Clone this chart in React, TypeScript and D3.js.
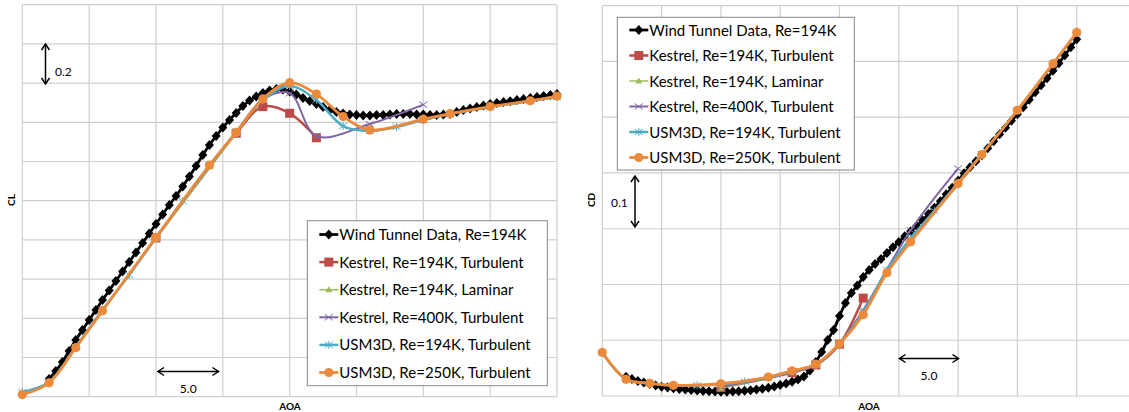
import React from 'react';
import * as d3 from 'd3';

// ---------------- DATA ----------------
// Wind tunnel (dense, 0.5 deg steps)
const wtAoa = [-8, -7.5, -7, -6.5, -6, -5.5, -5, -4.5, -4, -3.5, -3, -2.5, -2, -1.5, -1, -0.5, 0, 0.5, 1, 1.5, 2, 2.5, 3, 3.5, 4, 4.5, 5, 5.5, 6, 6.5, 7, 7.5, 8, 8.5, 9, 9.5, 10, 10.5, 11, 11.5, 12, 12.5, 13, 13.5, 14, 14.5, 15, 15.5, 16, 16.5, 17, 17.5, 18, 18.5, 19, 19.5, 20, 20.5, 21, 21.5, 22, 22.5, 23, 23.5, 24, 24.5, 25, 25.5, 26, 26.5, 27, 27.5, 28, 28.5, 29, 29.5, 30];
const wtCL = [-0.31, -0.269, -0.223, -0.167, -0.111, -0.06, -0.009, 0.042, 0.093, 0.142, 0.19, 0.239, 0.287, 0.336, 0.384, 0.433, 0.481, 0.53, 0.578, 0.624, 0.672, 0.723, 0.777, 0.833, 0.884, 0.93, 0.973, 1.012, 1.047, 1.083, 1.111, 1.132, 1.149, 1.162, 1.17, 1.167, 1.157, 1.142, 1.124, 1.109, 1.093, 1.078, 1.063, 1.053, 1.045, 1.04, 1.037, 1.035, 1.035, 1.037, 1.037, 1.04, 1.042, 1.042, 1.042, 1.04, 1.04, 1.037, 1.037, 1.04, 1.042, 1.052, 1.063, 1.07, 1.078, 1.086, 1.093, 1.098, 1.103, 1.108, 1.114, 1.119, 1.124, 1.129, 1.134, 1.139, 1.144];
const wtCD = [0.0346, 0.0305, 0.0269, 0.0242, 0.0215, 0.0188, 0.0167, 0.0152, 0.0138, 0.0125, 0.0116, 0.0108, 0.0099, 0.009, 0.0084, 0.0081, 0.0077, 0.0077, 0.0081, 0.0086, 0.0093, 0.0104, 0.0116, 0.0131, 0.0147, 0.017, 0.0197, 0.0224, 0.0256, 0.0296, 0.0349, 0.0457, 0.0609, 0.0789, 0.1004, 0.1183, 0.1434, 0.1667, 0.1846, 0.198, 0.2133, 0.2258, 0.2366, 0.2455, 0.2563, 0.267, 0.276, 0.2867, 0.2957, 0.3047, 0.3154, 0.3262, 0.3378, 0.3495, 0.362, 0.3737, 0.3862, 0.3996, 0.4104, 0.4211, 0.4319, 0.4444, 0.457, 0.4695, 0.4812, 0.4937, 0.5054, 0.5179, 0.5314, 0.5448, 0.5573, 0.5699, 0.5833, 0.5968, 0.6111, 0.6254, 0.6398];

// Kestrel Re=194K turbulent
const kt194Aoa = [0, 6, 8, 10, 12];
const kt194CL = [0.41, 0.944, 1.08, 1.046, 0.921];
const kt194CD = [0.015, 0.042, 0.0556, 0.093, 0.1756];

// Kestrel Re=194K laminar
const kl194Aoa = [0, 6];
const kl194CL = [0.405, 0.944];
const kl194CD = [0.0138, 0.043];

// Kestrel Re=400K turbulent
const kt400Aoa = [0, 6, 8, 10, 12, 16, 20];
const kt400CL = [0.415, 0.95, 1.117, 1.148, 0.93, 0.991, 1.09];
const kt400CD = [0.016, 0.044, 0.056, 0.095, 0.154, 0.2975, 0.408];

// USM3D Re=194K turbulent
const u194Aoa = [-10, -8, -6, -4, -2, 0, 2, 4, 6, 8, 10, 12, 14, 16, 18, 20, 22, 25, 28, 30];
const u194CL = [-0.376, -0.325, -0.146, 0.042, 0.221, 0.41, 0.598, 0.777, 0.951, 1.114, 1.185, 1.114, 0.981, 0.956, 0.976, 1.012, 1.042, 1.078, 1.108, 1.129];
const u194CD = [0.077, 0.03, 0.023, 0.019, 0.019, 0.021, 0.026, 0.033, 0.044, 0.056, 0.094, 0.15, 0.226, 0.283, 0.332, 0.383, 0.434, 0.512, 0.595, 0.651];

// USM3D Re=250K turbulent
const u250Aoa = [-10, -8, -6, -4, 0, 4, 6, 8, 10, 12, 14, 16, 20, 22, 25, 28, 30];
const u250CL = [-0.389, -0.329, -0.15, 0.039, 0.413, 0.781, 0.949, 1.12, 1.202, 1.144, 1.029, 0.961, 1.016, 1.044, 1.08, 1.11, 1.134];
const u250CD = [0.0783, 0.0299, 0.0228, 0.0192, 0.022, 0.0341, 0.0453, 0.057, 0.0937, 0.1457, 0.221, 0.2765, 0.381, 0.433, 0.5125, 0.596, 0.652];

const legendLabels = [
  'Wind Tunnel Data, Re=194K',
  'Kestrel, Re=194K, Turbulent',
  'Kestrel, Re=194K, Laminar',
  'Kestrel, Re=400K, Turbulent',
  'USM3D, Re=194K, Turbulent',
  'USM3D, Re=250K, Turbulent',
];

// ---------------- STYLE ----------------
type Marker = 'diamond' | 'square' | 'triangle' | 'x' | 'asterisk' | 'circle';
const seriesStyle: { color: string; width: number; marker: Marker }[] = [
  { color: '#000000', width: 2.8, marker: 'diamond' },
  { color: '#BE4B48', width: 2.5, marker: 'square' },
  { color: '#9BBB59', width: 1.5, marker: 'triangle' },
  { color: '#8064A2', width: 2, marker: 'x' },
  { color: '#4BACC6', width: 2.5, marker: 'asterisk' },
  { color: '#EC8A3C', width: 2.8, marker: 'circle' },
];

const FONT = 'Lato, Carlito, Calibri, "DejaVu Sans", sans-serif';

function MarkerShape({ type, x, y, color }: { type: Marker; x: number; y: number; color: string }) {
  switch (type) {
    case 'diamond':
      return <path d={`M${x},${y - 5}L${x + 4.5},${y}L${x},${y + 5}L${x - 4.5},${y}Z`} fill={color} />;
    case 'square':
      return <rect x={x - 4.5} y={y - 4.5} width={9} height={9} fill={color} />;
    case 'triangle':
      return <path d={`M${x},${y - 3.5}L${x + 3.5},${y + 2.5}L${x - 3.5},${y + 2.5}Z`} fill={color} />;
    case 'x':
      return (
        <g stroke={color} strokeWidth={1}>
          <line x1={x - 4} y1={y - 3} x2={x + 4} y2={y + 3} />
          <line x1={x - 4} y1={y + 3} x2={x + 4} y2={y - 3} />
        </g>
      );
    case 'asterisk':
      return (
        <g stroke={color} strokeWidth={1}>
          <line x1={x - 4} y1={y - 3} x2={x + 4} y2={y + 3} />
          <line x1={x - 4} y1={y + 3} x2={x + 4} y2={y - 3} />
          <line x1={x} y1={y - 4} x2={x} y2={y + 4} />
        </g>
      );
    case 'circle':
    default:
      return <circle cx={x} cy={y} r={4.6} fill={color} />;
  }
}

type PanelProps = {
  xDomain: [number, number];
  xRange: [number, number];
  yDomain: [number, number];
  yRange: [number, number];
  xTicks: number[];
  yTicks: number[];
  series: { aoa: number[]; val: number[] }[];
  yTitle: string;
  yTitleX: number;
  xTitleX: number;
};

function Panel(p: PanelProps) {
  const x = d3.scaleLinear().domain(p.xDomain).range(p.xRange);
  const y = d3.scaleLinear().domain(p.yDomain).range(p.yRange);
  const line = d3
    .line<[number, number]>()
    .x((d) => x(d[0]))
    .y((d) => y(d[1]))
    .curve(d3.curveCatmullRom.alpha(0.5));
  const [x0, x1] = p.xRange;
  const [y0, y1] = p.yRange;
  return (
    <g>
      {p.xTicks.map((t) => (
        <line key={'vx' + t} x1={x(t)} x2={x(t)} y1={y0} y2={y1} stroke="#CFCFCF" strokeWidth={1.2} />
      ))}
      {p.yTicks.map((t) => (
        <line key={'hy' + t} x1={x0} x2={x1} y1={y(t)} y2={y(t)} stroke="#CFCFCF" strokeWidth={1.2} />
      ))}
      {p.series.map((s, i) => {
        const st = seriesStyle[i];
        const pts: [number, number][] = s.aoa.map((a, k) => [a, s.val[k]]);
        return (
          <g key={'s' + i}>
            <path d={line(pts) || ''} fill="none" stroke={st.color} strokeWidth={st.width} strokeLinejoin="round" />
            {pts.map((d, k) => (
              <MarkerShape key={k} type={st.marker} x={x(d[0])} y={y(d[1])} color={st.color} />
            ))}
          </g>
        );
      })}
      <text
        transform={`translate(${p.yTitleX},200) rotate(-90)`}
        textAnchor="middle"
        fontFamily={FONT}
        fontWeight="bold"
        fontSize={10}
        fill="#000"
      >
        {p.yTitle}
      </text>
      <text x={p.xTitleX} y={410} textAnchor="middle" fontFamily={FONT} fontWeight="bold" fontSize={10} fill="#000">
        AOA
      </text>
    </g>
  );
}

function Legend({ x0, y0, w, h, rowStart, rowGap }: { x0: number; y0: number; w: number; h: number; rowStart: number; rowGap: number }) {
  return (
    <g>
      <rect x={x0} y={y0} width={w} height={h} fill="#fff" stroke="#878787" strokeWidth={1} />
      {legendLabels.map((lab, i) => {
        const st = seriesStyle[i];
        const cy = rowStart + i * rowGap;
        const lx = x0 + 12;
        return (
          <g key={lab}>
            <line x1={lx} x2={lx + 19} y1={cy} y2={cy} stroke={st.color} strokeWidth={st.width} />
            <MarkerShape type={st.marker} x={lx + 9.5} y={cy} color={st.color} />
            <text x={lx + 20} y={cy + 5.5} fontFamily={FONT} fontSize={15} fill="#000">
              {lab}
            </text>
          </g>
        );
      })}
    </g>
  );
}

function HArrow({ xa, xb, yy, label }: { xa: number; xb: number; yy: number; label: string }) {
  return (
    <g stroke="#000" strokeWidth={1.5} fill="none">
      <line x1={xa} x2={xb} y1={yy} y2={yy} />
      <path d={`M${xa + 6},${yy - 4}L${xa},${yy}L${xa + 6},${yy + 4}`} />
      <path d={`M${xb - 6},${yy - 4}L${xb},${yy}L${xb - 6},${yy + 4}`} />
      <text x={(xa + xb) / 2} y={yy + 21} textAnchor="middle" fontFamily={FONT} fontSize={12} fill="#000" stroke="none">
        {label}
      </text>
    </g>
  );
}

function VArrow({ xx, ya, yb, label, lx, ly }: { xx: number; ya: number; yb: number; label: string; lx: number; ly: number }) {
  return (
    <g stroke="#000" strokeWidth={1.5} fill="none">
      <line x1={xx} x2={xx} y1={ya} y2={yb} />
      <path d={`M${xx - 4},${ya + 6}L${xx},${ya}L${xx + 4},${ya + 6}`} />
      <path d={`M${xx - 4},${yb - 6}L${xx},${yb}L${xx + 4},${yb - 6}`} />
      <text x={lx} y={ly} fontFamily={FONT} fontSize={12} fill="#000" stroke="none">
        {label}
      </text>
    </g>
  );
}

export default function App() {
  const clSeries = [
    { aoa: wtAoa, val: wtCL },
    { aoa: kt194Aoa, val: kt194CL },
    { aoa: kl194Aoa, val: kl194CL },
    { aoa: kt400Aoa, val: kt400CL },
    { aoa: u194Aoa, val: u194CL },
    { aoa: u250Aoa, val: u250CL },
  ];
  const cdSeries = [
    { aoa: wtAoa, val: wtCD },
    { aoa: kt194Aoa, val: kt194CD },
    { aoa: kl194Aoa, val: kl194CD },
    { aoa: kt400Aoa, val: kt400CD },
    { aoa: u194Aoa, val: u194CD },
    { aoa: u250Aoa, val: u250CD },
  ];
  const clXTicks = [-10, -5, 0, 5, 10, 15, 20, 25, 30];
  const clYTicks = [-0.4, -0.2, 0, 0.2, 0.4, 0.6, 0.8, 1.0, 1.2, 1.4, 1.6];
  const cdXTicks = [-10, -5, 0, 5, 10, 15, 20, 25, 30, 35];
  const cdYTicks = [0, 0.1, 0.2, 0.3, 0.4, 0.5, 0.6, 0.7];
  return (
    <svg
      width={1129}
      height={412}
      style={{ position: 'absolute', left: 0, top: 0, display: 'block', background: '#fff' }}
    >
      <rect x={0} y={0} width={1129} height={412} fill="#fff" />
      <Panel
        xDomain={[-10, 30]}
        xRange={[22.3, 557]}
        yDomain={[-0.4, 1.6]}
        yRange={[396.7, 4.7]}
        xTicks={clXTicks}
        yTicks={clYTicks}
        series={clSeries}
        yTitle="CL"
        yTitleX={15}
        xTitleX={290}
      />
      <Panel
        xDomain={[-10, 35]}
        xRange={[602.3, 1136]}
        yDomain={[0, 0.7]}
        yRange={[396, 5.7]}
        xTicks={cdXTicks}
        yTicks={cdYTicks}
        series={cdSeries}
        yTitle="CD"
        yTitleX={595}
        xTitleX={869}
      />
      <VArrow xx={45.5} ya={44} yb={84} label="0.2" lx={55} ly={76} />
      <HArrow xa={158} xb={218.5} yy={371.5} label="5.0" />
      <VArrow xx={635} ya={176} yb={227} label="0.1" lx={611} ly={207} />
      <HArrow xa={899.5} xb={958.5} yy={358.5} label="5.0" />
      <Legend x0={307.3} y0={220.7} w={240} h={165} rowStart={234.5} rowGap={27.6} />
      <Legend x0={617.3} y0={17.3} w={237} h={152.7} rowStart={30} rowGap={25.5} />
    </svg>
  );
}
